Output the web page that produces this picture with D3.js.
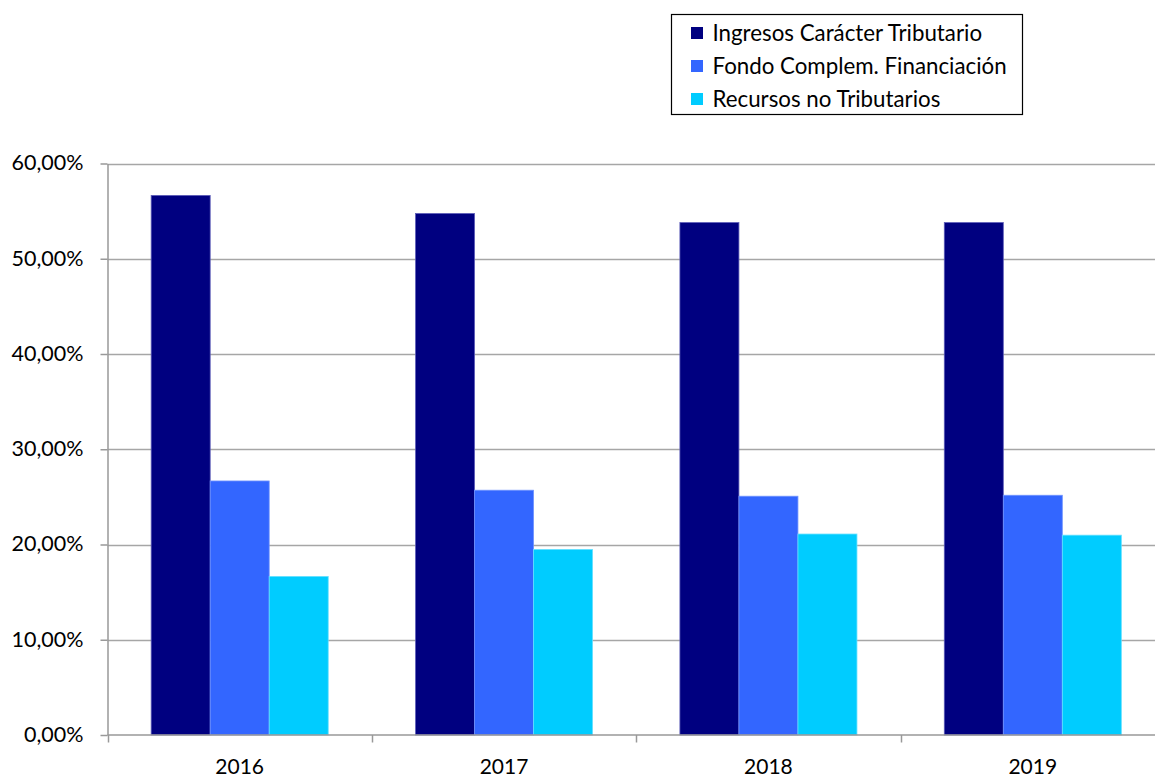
<!DOCTYPE html>
<meta charset="utf-8">
<script src="https://d3js.org/d3.v7.min.js"></script>
<style>
  body { margin: 0; background: #fff; }
  text { font-family: Lato, "Open Sans", sans-serif; fill: #000; }
</style>
<div id="chart"></div>
<script>

    // data
    var years = ["2016", "2017", "2018", "2019"];
    var series = ["Ingresos Carácter Tributario", "Fondo Complem. Financiación", "Recursos no Tributarios"];
    var colors = ["#000080", "#3366ff", "#00ccff"];
    var strokes = ["#5c5cb8", "#7094ff", "#66e0ff"];
    var ingresos = [0.5665, 0.5475, 0.538, 0.538];
    var fondo = [0.2667, 0.257, 0.2507, 0.2517];
    var recursos = [0.1665, 0.1948, 0.211, 0.2098];
    var yTicks = [0, 0.1, 0.2, 0.3, 0.4, 0.5, 0.6];

    var values = [ingresos, fondo, recursos];

    var W = 1155, H = 779;
    var margin = {top: 163.5, left: 107.5, bottom: 43.5};
    var plotRight = 1165;

    var svg = d3.select("#chart").append("svg")
        .attr("width", W)
        .attr("height", H);

    var locale = d3.formatLocale({decimal: ",", thousands: ".", grouping: [3], currency: ["", "€"]});
    var fmt = locale.format(".2%");

    var y = d3.scaleLinear()
        .domain([0, 0.6])
        .range([H - margin.bottom - 0.5, margin.top]);

    var x0 = d3.scaleBand()
        .domain(years)
        .range([margin.left, plotRight]);

    var x1 = d3.scaleBand()
        .domain(series)
        .range([0, x0.bandwidth()])
        .paddingInner(0)
        .paddingOuter(0.74);

    // gridlines
    svg.append("g")
        .selectAll("line")
        .data(yTicks.slice(1))
        .join("line")
        .attr("x1", margin.left)
        .attr("x2", W)
        .attr("y1", function(d) { return Math.round(y(d)) + 0.5; })
        .attr("y2", function(d) { return Math.round(y(d)) + 0.5; })
        .attr("stroke", "#a6a6a6")
        .attr("stroke-width", 1.5);

    // bars
    var groups = svg.append("g")
        .selectAll("g")
        .data(years)
        .join("g")
        .attr("transform", function(d) { return "translate(" + x0(d) + ",0)"; });

    groups.selectAll("rect")
        .data(function(d, i) {
            return series.map(function(s, k) { return {key: s, k: k, value: values[k][i]}; });
        })
        .join("rect")
        .attr("x", function(d) { return x1(d.key); })
        .attr("width", x1.bandwidth())
        .attr("y", function(d) { return y(d.value); })
        .attr("height", function(d) { return y(0) - y(d.value); })
        .attr("fill", function(d) { return colors[d.k]; })
        .attr("stroke", function(d) { return strokes[d.k]; })
        .attr("stroke-width", 0.8);

    // y axis
    var yAxis = svg.append("g")
        .attr("transform", "translate(" + margin.left + ",0)")
        .call(d3.axisLeft(y).tickValues(yTicks).tickFormat(fmt).tickSize(7).tickSizeOuter(0).tickPadding(17));
    yAxis.selectAll("line, path").attr("stroke", "#999").attr("stroke-width", 1.5);
    yAxis.selectAll("text").style("font-size", "21.5px").style("font-family", "Lato, sans-serif").attr("dy", "0.3em");

    // x axis: ticks at category boundaries
    var xAxis = svg.append("g")
        .attr("transform", "translate(0," + (y(0)) + ")");
    xAxis.append("line")
        .attr("x1", margin.left).attr("x2", W)
        .attr("stroke", "#999").attr("stroke-width", 1.5);
    xAxis.selectAll(".tick")
        .data(years)
        .join("line")
        .attr("class", "tick")
        .attr("x1", function(d) { return Math.round(x0(d)) + 0.5; })
        .attr("x2", function(d) { return Math.round(x0(d)) + 0.5; })
        .attr("y1", 0).attr("y2", 7.5)
        .attr("stroke", "#999").attr("stroke-width", 1.5);
    xAxis.selectAll(".lbl")
        .data(years)
        .join("text")
        .attr("class", "lbl")
        .attr("x", function(d) { return x0(d) + x0.bandwidth() / 2; })
        .attr("y", 39)
        .attr("text-anchor", "middle")
        .style("font-size", "21px")
        .text(function(d) { return d; });

    // legend
    var legend = svg.append("g").attr("transform", "translate(671.5,14.5)");
    legend.append("rect")
        .attr("width", 351).attr("height", 100)
        .attr("fill", "#fff").attr("stroke", "#000").attr("stroke-width", 1.2);
    var item = legend.selectAll(".item")
        .data(series)
        .join("g")
        .attr("class", "item")
        .attr("transform", function(d, i) { return "translate(0," + (12.5 + i * 33) + ")"; });
    item.append("rect")
        .attr("x", 19.5).attr("y", 0)
        .attr("width", 12).attr("height", 12)
        .attr("fill", function(d, i) { return colors[i]; });
    item.append("text")
        .attr("x", 41)
        .attr("y", 6)
        .attr("dy", "0.35em")
        .style("font-size", "22.3px")
        .text(function(d) { return d; });

</script>
